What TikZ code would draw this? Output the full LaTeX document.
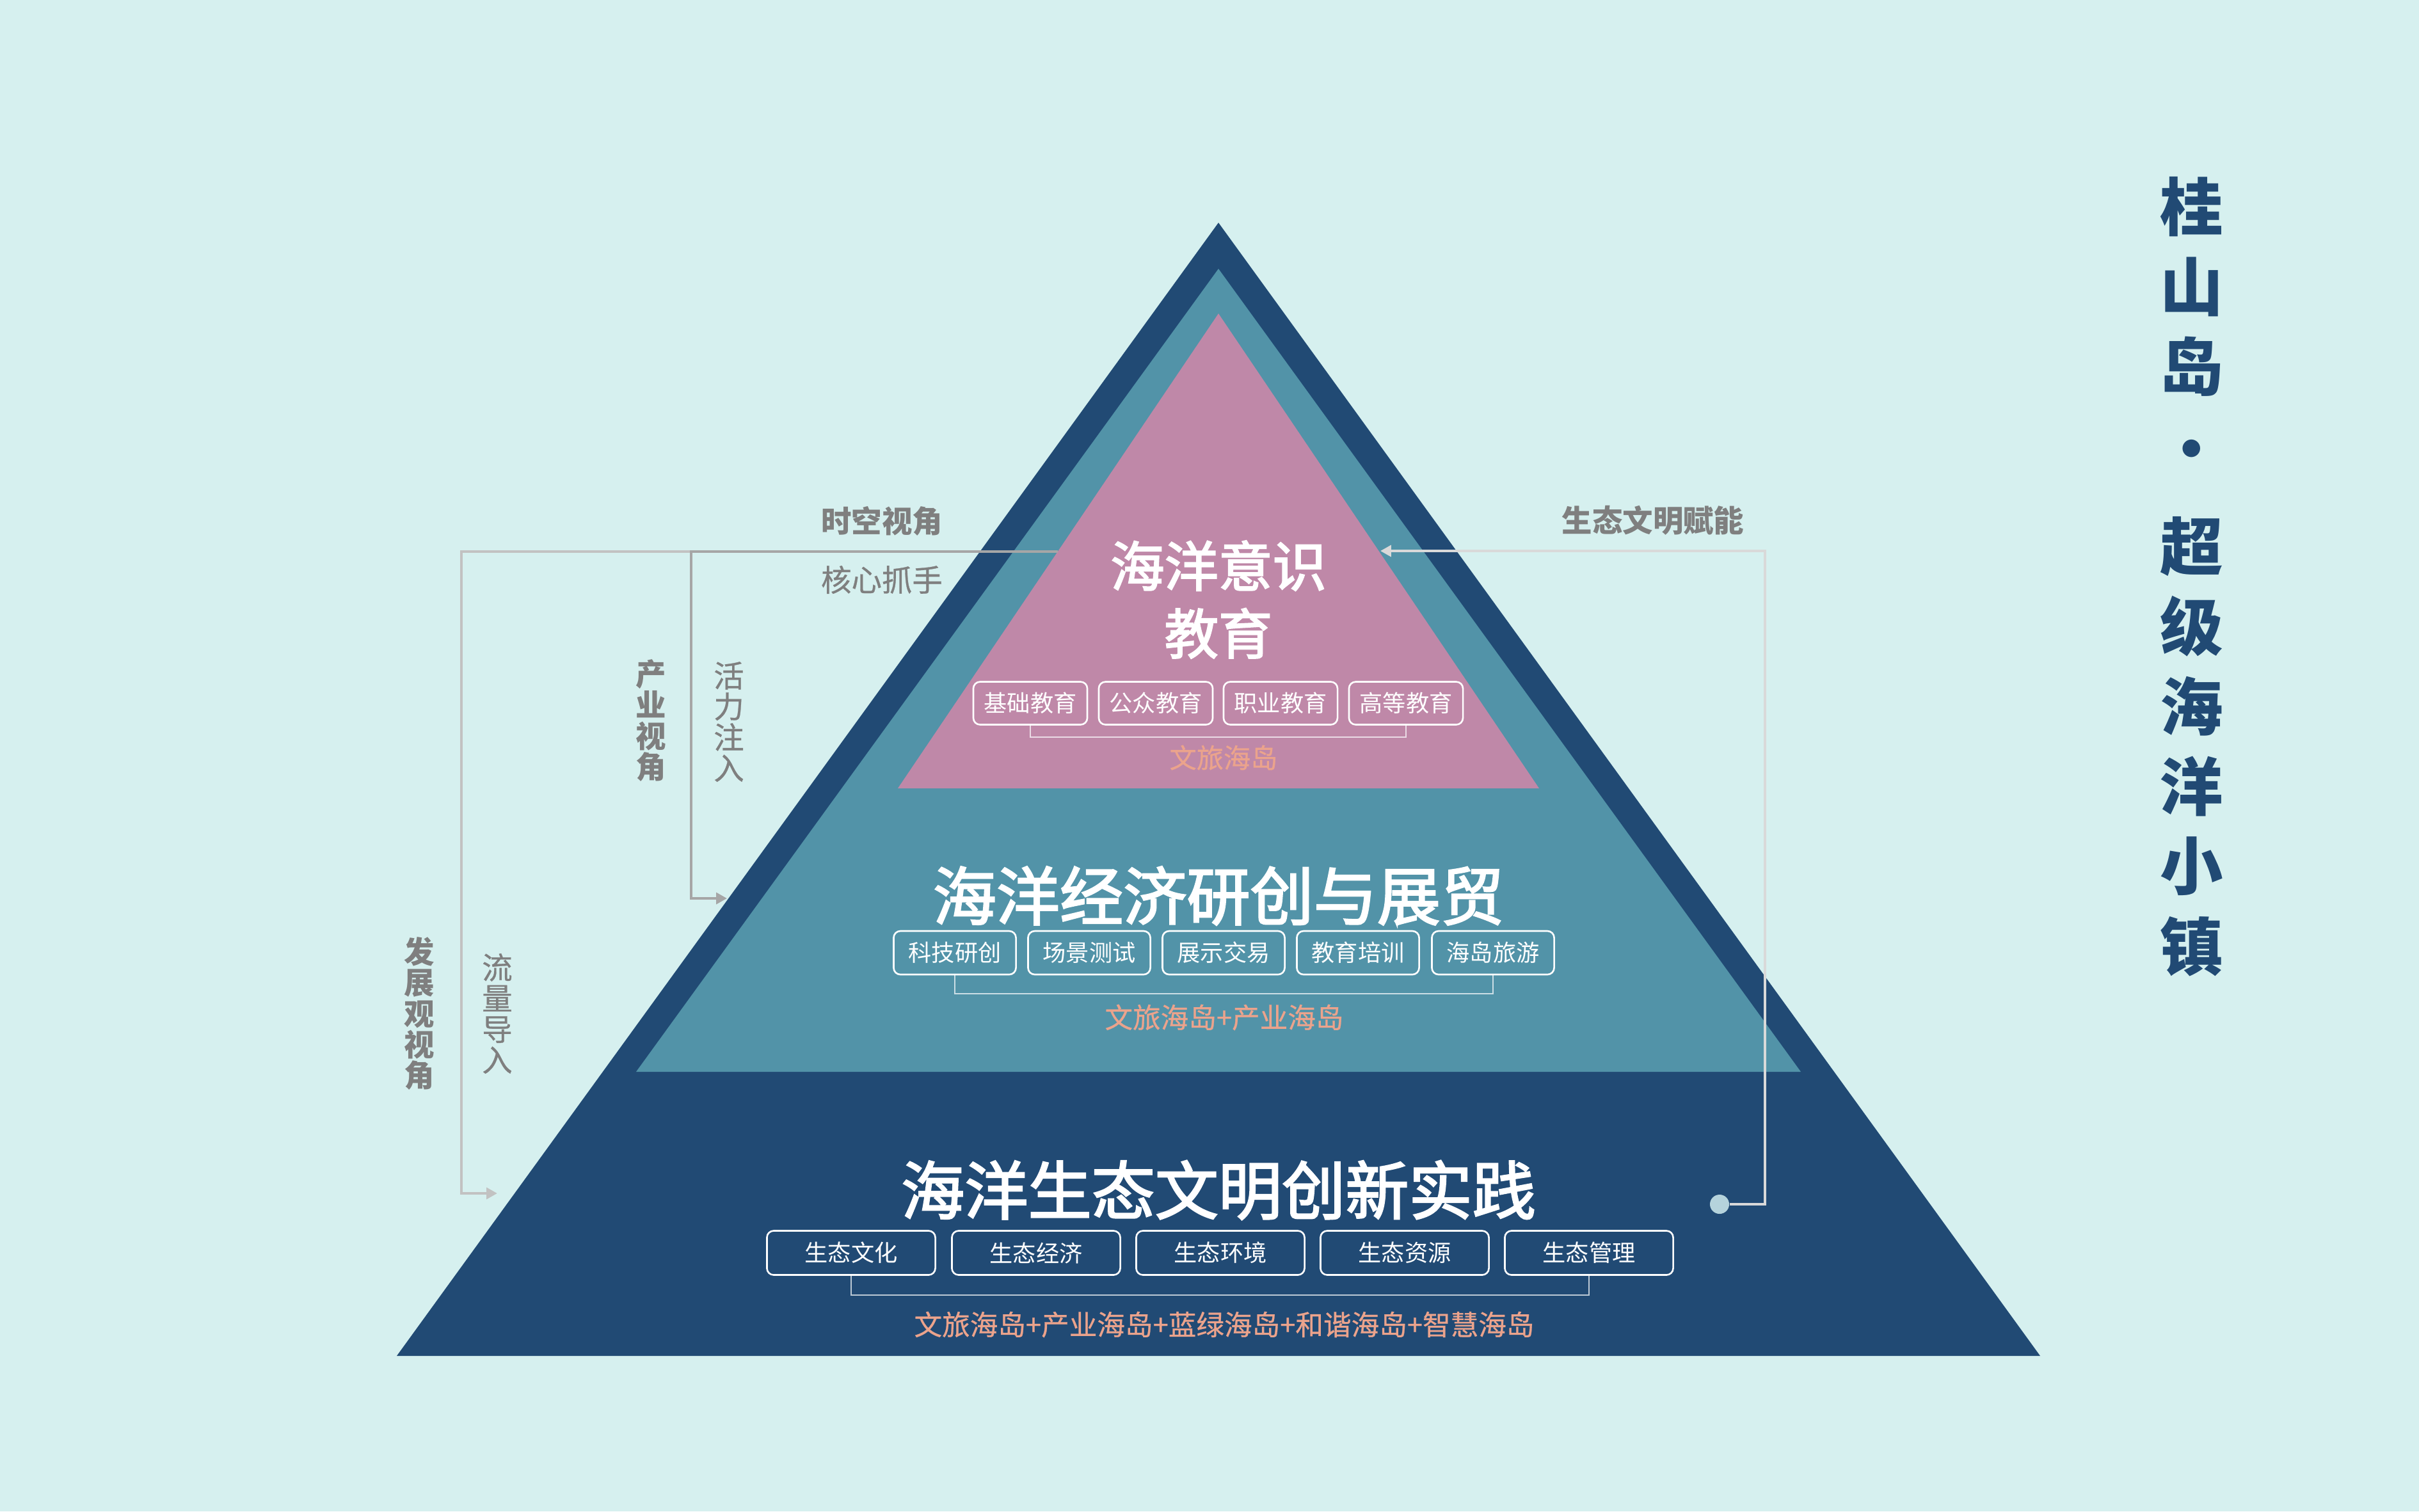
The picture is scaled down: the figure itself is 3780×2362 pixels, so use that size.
\documentclass[tikz,border=0pt]{standalone}
\usepackage{fontspec}
\setmainfont{Noto Sans CJK SC}
\newfontfamily\medf[FakeBold=2.5]{Noto Sans CJK SC}
\newfontfamily\lightf[FakeBold=0.6]{Noto Sans CJK SC}
\usetikzlibrary{arrows.meta}
\newcommand\fsz[2]{\fontsize{#1}{#2}\selectfont}
\definecolor{bgc}{HTML}{D6F0EF}
\definecolor{navyc}{HTML}{214A74}
\definecolor{tealc}{HTML}{5293A8}
\definecolor{pinkc}{HTML}{BF88A8}
\definecolor{salmonc}{HTML}{EBA38C}
\definecolor{grayt}{HTML}{7F7F7F}
\definecolor{lineA}{HTML}{C2C2C2}
\definecolor{lineB}{HTML}{A6A6A6}
\definecolor{lineC}{HTML}{D9D9D9}
\definecolor{dotc}{HTML}{B5D3DC}
\tikzset{
  bigtitle/.style={text=white, font=\medf\fsz{28.2}{34}, inner sep=0},
  tagbox/.style={draw=white, line width=0.75pt, rounded corners=3pt, text=white,
    font=\fsz{10.3}{12}, inner sep=0, anchor=center},
  pinktag/.style={tagbox, minimum width=1.78cm, minimum height=0.67cm},
  tealtag/.style={tagbox, minimum width=1.91cm, minimum height=0.68cm},
  navytag/.style={tagbox, minimum width=2.63cm, minimum height=0.69cm},
  bracketln/.style={draw=white, draw opacity=0.7, line width=0.6pt},
  subtxt/.style={text=salmonc, font=\lightf\fsz{12.4}{14}, inner sep=0},
  lbl/.style={text=grayt, font=\lightf\fsz{13.5}{13.7}, inner sep=0, align=center},
  lblb/.style={lbl, font=\fsz{13.5}{13.7}\bfseries},
  sidetitle/.style={text=navyc, font=\fsz{28}{30}\bfseries, inner sep=0},
  arrowtip/.style={-{Triangle[length=4.8pt,width=5pt]}},
}
\begin{document}
\begin{tikzpicture}[x=0.01cm,y=-0.01cm]
\fill[bgc] (0,0) rectangle (3780,2362);
\useasboundingbox (0,0) rectangle (3780,2362);

% pyramid
\fill[navyc] (1904,348) -- (3188,2119) -- (620,2119) -- cycle;
\fill[tealc] (1904,420) -- (2814,1675) -- (994,1675) -- cycle;
\fill[pinkc] (1904,490) -- (2405,1232) -- (1403,1232) -- cycle;

% level 1
\node[bigtitle, align=center, font=\medf\fsz{24}{30}] (t1) at (1904,937) {海洋意识\\教育};
\node[pinktag] (p1) at (1610,1099) {基础教育};
\node[pinktag] (p2) at (1806,1099) {公众教育};
\node[pinktag] (p3) at (2001,1099) {职业教育};
\node[pinktag] (p4) at (2197,1099) {高等教育};
\draw[bracketln] (p1.south) -- ++(0,18) -| (p4.south);
\node[subtxt, font=\lightf\fsz{12}{14}] (s1) at (1912,1184) {文旅海岛};

% level 2
\node[bigtitle] (t2) at (1904,1400) {海洋经济研创与展贸};
\node[tealtag] (m1) at (1492,1489) {科技研创};
\node[tealtag] (m2) at (1702,1489) {场景测试};
\node[tealtag] (m3) at (1912,1489) {展示交易};
\node[tealtag] (m4) at (2122,1489) {教育培训};
\node[tealtag] (m5) at (2333,1489) {海岛旅游};
\draw[bracketln] (m1.south) -- ++(0,29) -| (m5.south);
\node[subtxt] (s2) at (1913,1590) {文旅海岛+产业海岛};

% level 3
\node[bigtitle] (t3) at (1904,1860) {海洋生态文明创新实践};
\node[navytag] (b1) at (1330,1958) {生态文化};
\node[navytag] (b2) at (1619,1958) {生态经济};
\node[navytag] (b3) at (1907,1958) {生态环境};
\node[navytag] (b4) at (2195,1958) {生态资源};
\node[navytag] (b5) at (2483,1958) {生态管理};
\draw[bracketln] (b1.south) -- ++(0,30) -| (b5.south);
\node[subtxt] (s3) at (1913,2070) {文旅海岛+产业海岛+蓝绿海岛+和谐海岛+智慧海岛};

% left connectors
\coordinate (pl) at (1653,862);
\coordinate (k1) at (721,862);
\coordinate (k2) at (1080,862);
\coordinate (a1) at (777,1865);
\coordinate (a2) at (1136,1404);
\draw[lineA, line width=1.4pt, arrowtip] (pl) -- (k1) |- (a1);
\draw[lineB, line width=1.4pt, arrowtip] (pl) -- (k2) |- (a2);

% right connector
\coordinate (pr) at (2157,861);
\coordinate (k3) at (2758,1882);
\node[circle, fill=dotc, minimum size=0.3cm, inner sep=0] (dot) at (2687,1882) {};
\draw[lineC, line width=1.3pt, arrowtip] (dot.east) -- (k3) |- (pr);

% labels
\node[lblb] (l1) at (1378,814) {时空视角};
\node[lbl] (l2) at (1378,906) {核心抓手};
\node[lblb] (l3) at (2583,813) {生态文明赋能};
\node[lblb] (v1) at (1017,1126) {产\\业\\视\\角};
\node[lbl] (v2) at (1139,1128) {活\\力\\注\\入};
\node[lblb] (v3) at (655,1584) {发\\展\\观\\视\\角};
\node[lbl] (v4) at (777,1584) {流\\量\\导\\入};

% side title
\node[sidetitle] (r1) at (3425,323) {桂};
\node[sidetitle] (r2) at (3425,448) {山};
\node[sidetitle] (r3) at (3425,573) {岛};
\node[sidetitle] (r4) at (3425,713) {·};
\node[sidetitle] (r5) at (3425,854) {超};
\node[sidetitle] (r6) at (3425,979) {级};
\node[sidetitle] (r7) at (3425,1104) {海};
\node[sidetitle] (r8) at (3425,1229) {洋};
\node[sidetitle] (r9) at (3425,1354) {小};
\node[sidetitle] (r10) at (3425,1479) {镇};
\end{tikzpicture}
\end{document}
